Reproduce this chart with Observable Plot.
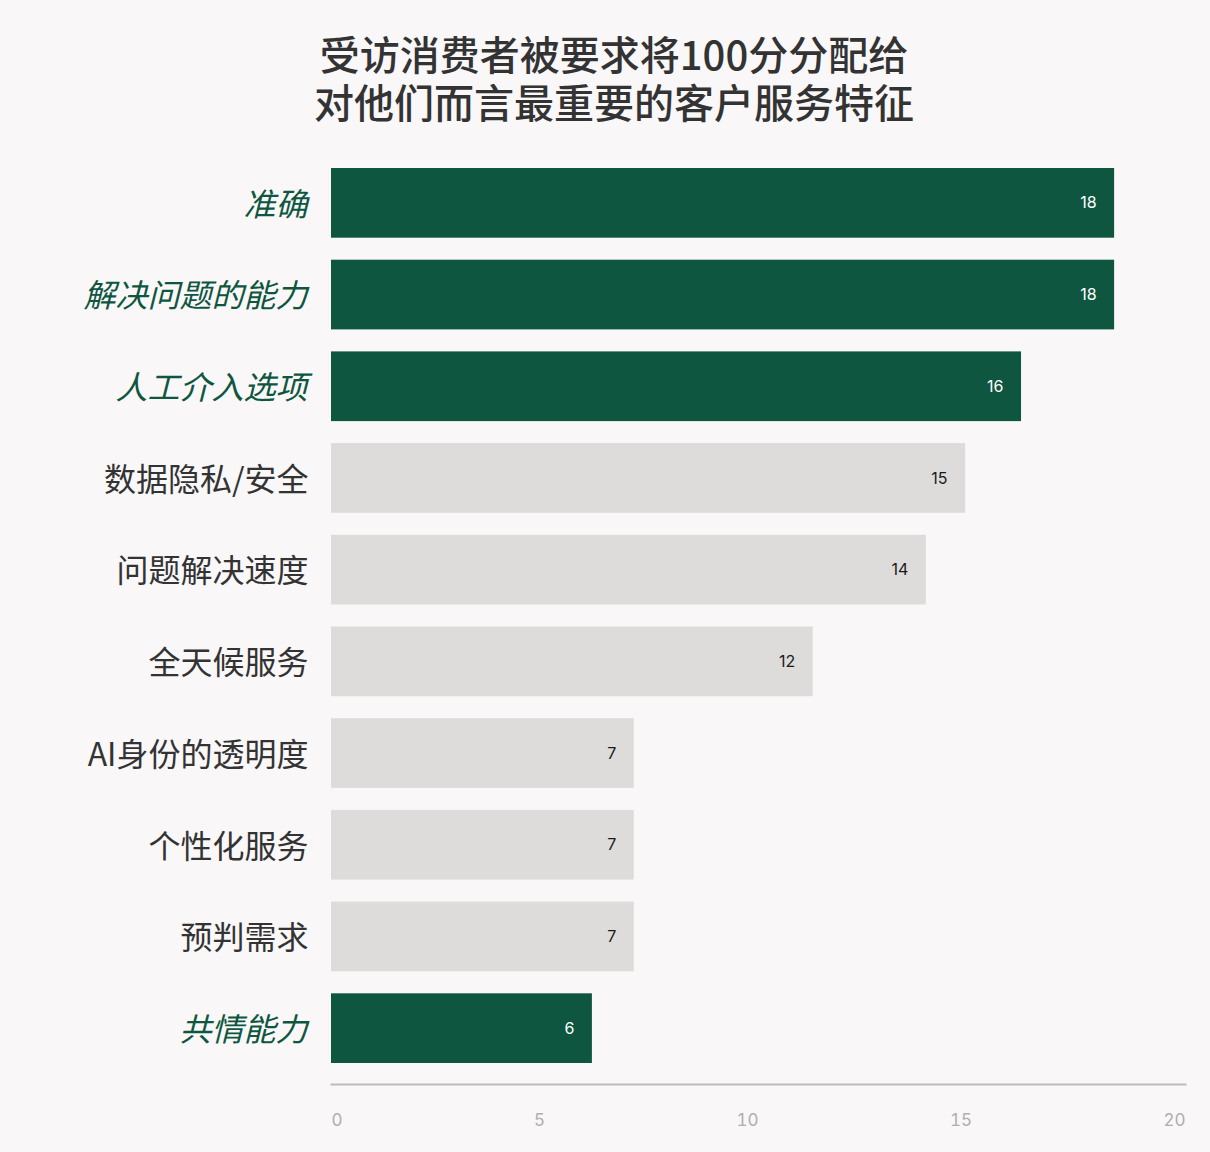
<!DOCTYPE html>
<html>
<head>
<meta charset="utf-8">
<script src="https://cdn.jsdelivr.net/npm/d3@7"></script>
<script src="https://cdn.jsdelivr.net/npm/@observablehq/plot@0.6"></script>
<style>
  html, body { margin: 0; padding: 0; background: #f9f7f8; }
  #title {
    width: 1210px; box-sizing: border-box;
    padding-top: 29px; padding-bottom: 5px; padding-left: 18px; height: 130px;
    text-align: center; font-family: "Noto Sans CJK SC", "Noto Sans", sans-serif;
    font-size: 40px; font-weight: 500; color: #333;
  }
  #title div { height: 48px; line-height: 48px; }
  #chart svg { display: block; }
</style>
</head>
<body>
<div id="title"><div>受访消费者被要求将100分分配给</div><div>对他们而言最重要的客户服务特征</div></div>
<div id="chart"></div>
<script>
const categories = ["准确", "解决问题的能力", "人工介入选项", "数据隐私/安全", "问题解决速度", "全天候服务", "AI身份的透明度", "个性化服务", "预判需求", "共情能力"];
const values = [18.34, 18.34, 16.16, 14.85, 13.93, 11.28, 7.09, 7.09, 7.09, 6.11];
const valueLabels = ["18", "18", "16", "15", "14", "12", "7", "7", "7", "6"];
const highlighted = [true, true, true, false, false, false, false, false, false, true];
const xTicks = [0, 5, 10, 15, 20];

const data = categories.map((c, i) => ({ category: c, value: values[i], label: valueLabels[i], hi: highlighted[i] }));
const hiData = data.filter(d => d.hi);
const loData = data.filter(d => !d.hi);

const GREEN = "#0f5640";
const GRAY = "#dddcda";
const cjk = "'Noto Sans CJK SC', 'Noto Sans', sans-serif";
const num = "Inter, 'Liberation Sans', sans-serif";

const chart = Plot.plot({
  width: 1210,
  height: 1022,
  marginLeft: 331,
  marginRight: 25,
  marginTop: 27,
  marginBottom: 78,
  style: { background: "#f9f7f8", overflow: "visible" },
  x: { domain: [0, 20], axis: null },
  y: { domain: categories, axis: null, paddingInner: 0.24, paddingOuter: 0.12, round: false },
  marks: [
    Plot.barX(data, { x: "value", y: "category", fill: d => d.hi ? GREEN : GRAY }),
    Plot.text(hiData, { x: "value", y: "category", text: "label", textAnchor: "end", dx: -18, fill: "white", fontSize: 16, fontFamily: num }),
    Plot.text(loData, { x: "value", y: "category", text: "label", textAnchor: "end", dx: -18, fill: "#1a1a1a", fontSize: 16, fontFamily: num }),
    Plot.text(hiData, { x: () => 0, y: "category", text: "category", textAnchor: "end", dx: -24, dy: 2, fill: GREEN, fontSize: 32, fontStyle: "italic", fontFamily: cjk }),
    Plot.text(loData, { x: () => 0, y: "category", text: "category", textAnchor: "end", dx: -23, dy: 2, fill: "#333", fontSize: 32, fontFamily: cjk }),
    Plot.frame({ anchor: "bottom", stroke: "#bdbbbc", strokeWidth: 2, dy: 10 }),
    Plot.text(xTicks.filter(t => t === 0), { x: d => d, frameAnchor: "bottom", dy: 51, textAnchor: "start", fill: "#b0aeaf", fontSize: 17, fontFamily: num }),
    Plot.text(xTicks.filter(t => t !== 0), { x: d => d, frameAnchor: "bottom", dy: 51, textAnchor: "end", fill: "#b0aeaf", fontSize: 17, fontFamily: num })
  ]
});
document.getElementById("chart").appendChild(chart);
</script>
</body>
</html>
